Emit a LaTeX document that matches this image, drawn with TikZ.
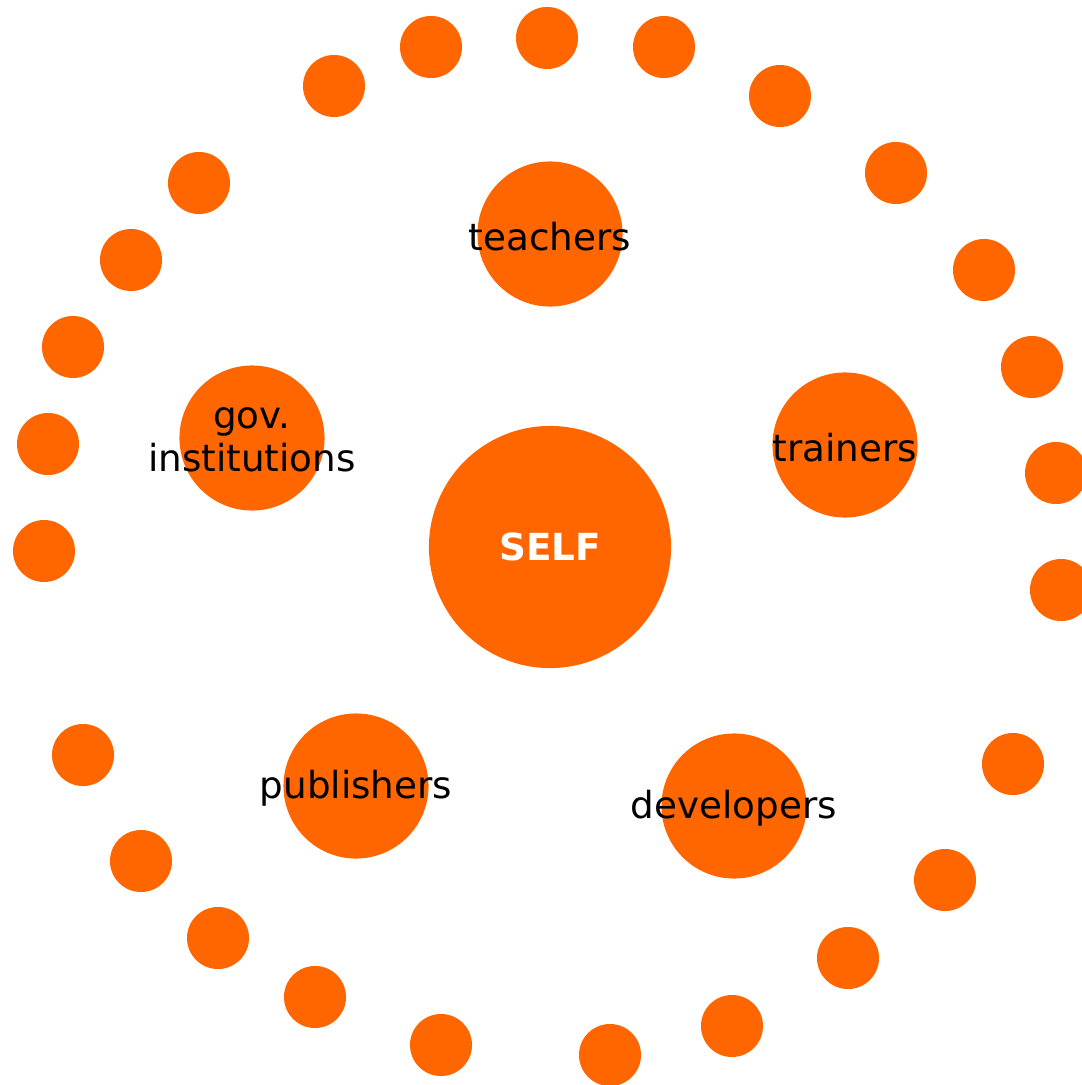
\documentclass[tikz,border=0pt]{standalone}
\usepackage{fontspec}
\setmainfont{DejaVu Sans}
\usepackage{xcolor}
\definecolor{selforange}{HTML}{FF6600}

\begin{document}
\begin{tikzpicture}[x=0.01cm, y=-0.01cm]
\clip (0,0) rectangle (1082,1085);
\begin{scope}[every node/.style={circle, fill=selforange, inner sep=0pt},
              lbl/.style={fill=none, align=center, yshift=-0.6pt, font=\fontsize{10.6}{12.2}\selectfont}]
   % centre
   \node[minimum size=2.42cm, font=\fontsize{10.6}{12}\selectfont\bfseries, text=white] (self) at (550,547) {SELF};
   % inner ring
   \node[minimum size=1.45cm, label={[lbl]center:teachers}] (teachers) at (550,234) {};
   \node[minimum size=1.45cm, label={[lbl]center:gov.\\institutions}] (gov) at (252,438) {};
   \node[minimum size=1.45cm, label={[lbl]center:trainers}] (trainers) at (845,445) {};
   \node[minimum size=1.45cm, label={[lbl]center:publishers}] (publishers) at (356,786) {};
   \node[minimum size=1.45cm, label={[lbl]center:developers}] (developers) at (734,806) {};
   % outer ring
   \node[minimum size=0.62cm] (d1) at (334,86) {};
   \node[minimum size=0.62cm] (d2) at (431,47) {};
   \node[minimum size=0.62cm] (d3) at (547,38) {};
   \node[minimum size=0.62cm] (d4) at (664,47) {};
   \node[minimum size=0.62cm] (d5) at (780,96) {};
   \node[minimum size=0.62cm] (d6) at (896,173) {};
   \node[minimum size=0.62cm] (d7) at (984,270) {};
   \node[minimum size=0.62cm] (d8) at (1032,367) {};
   \node[minimum size=0.62cm] (d9) at (1056,473) {};
   \node[minimum size=0.62cm] (d10) at (1061,590) {};
   \node[minimum size=0.62cm] (d11) at (1013,764) {};
   \node[minimum size=0.62cm] (d12) at (945,880) {};
   \node[minimum size=0.62cm] (d13) at (848,958) {};
   \node[minimum size=0.62cm] (d14) at (732,1026) {};
   \node[minimum size=0.62cm] (d15) at (610,1055) {};
   \node[minimum size=0.62cm] (d16) at (441,1045) {};
   \node[minimum size=0.62cm] (d17) at (315,997) {};
   \node[minimum size=0.62cm] (d18) at (218,938) {};
   \node[minimum size=0.62cm] (d19) at (141,861) {};
   \node[minimum size=0.62cm] (d20) at (83,755) {};
   \node[minimum size=0.62cm] (d21) at (44,551) {};
   \node[minimum size=0.62cm] (d22) at (48,444) {};
   \node[minimum size=0.62cm] (d23) at (73,347) {};
   \node[minimum size=0.62cm] (d24) at (131,260) {};
   \node[minimum size=0.62cm] (d25) at (199,183) {};
\end{scope}
\end{tikzpicture}
\end{document}
